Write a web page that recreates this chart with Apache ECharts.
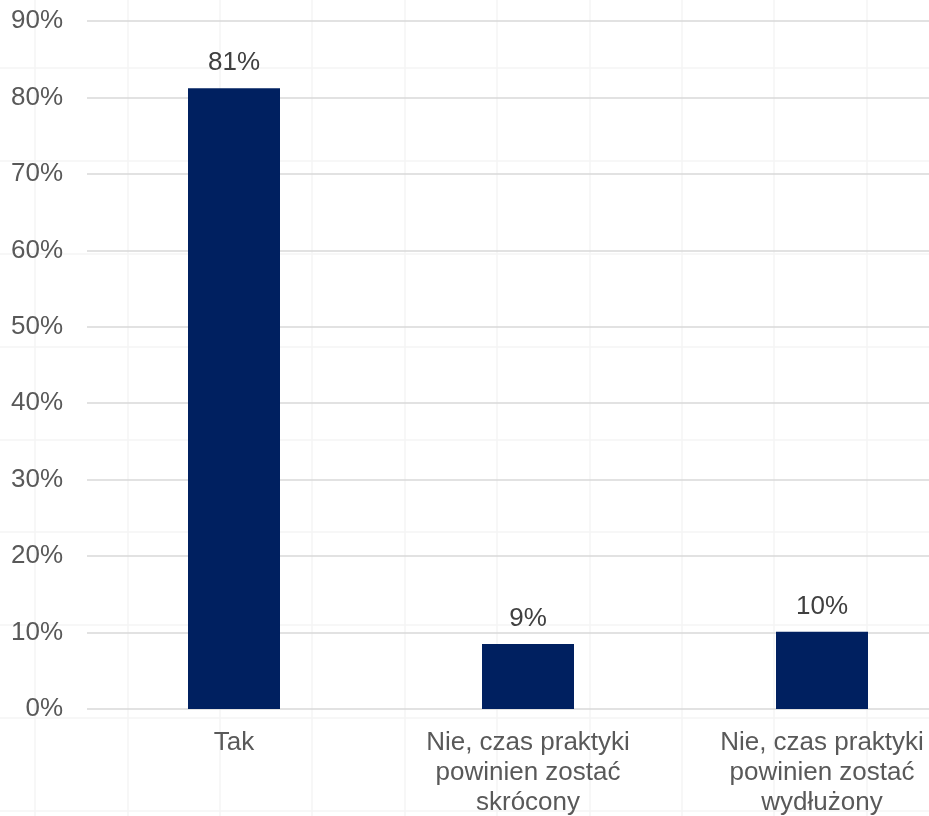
<!DOCTYPE html>
<html>
<head>
<meta charset="utf-8">
<script src="https://cdn.jsdelivr.net/npm/echarts@6/dist/echarts.min.js"></script>
<style>html,body{margin:0;padding:0;background:#fff}#c{width:929px;height:816px}</style>
</head>
<body>
<div id="c"></div>
<script>
const categories = ["Tak", "Nie, czas praktyki\npowinien zostać\nskrócony", "Nie, czas praktyki\npowinien zostać\nwydłużony"];
const values = [81.2, 8.5, 10.1];
const valueLabels = ["81%", "9%", "10%"];
const yTicks = [0, 10, 20, 30, 40, 50, 60, 70, 80, 90];

const chart = echarts.init(document.getElementById('c'), null, {renderer: 'canvas'});
const font = "'Liberation Sans', Arial, sans-serif";
chart.setOption({
  animation: false,
  backgroundColor: '#ffffff',
  grid: [
    {left: 87, top: 21, width: 882, height: 688, containLabel: false, outerBoundsMode: 'none'},
    {left: -57.4, top: -24.6, width: 1108.8, height: 928, containLabel: false, outerBoundsMode: 'none'}
  ],
  xAxis: [
    {
      type: 'category', gridIndex: 0, data: categories,
      axisLine: {show: false}, axisTick: {show: false},
      axisLabel: {color: '#595959', fontSize: 26, fontFamily: font, lineHeight: 30, margin: 19, interval: 0, hideOverlap: false}
    },
    {
      type: 'value', gridIndex: 1, min: 0, max: 12, interval: 1,
      axisLine: {show: false}, axisTick: {show: false}, axisLabel: {show: false},
      splitLine: {show: true, lineStyle: {color: '#f4f4f4', width: 1.5}}
    }
  ],
  yAxis: [
    {
      type: 'value', gridIndex: 0, min: yTicks[0], max: yTicks[yTicks.length - 1], interval: 10,
      axisLine: {show: false}, axisTick: {show: false},
      axisLabel: {color: '#595959', fontSize: 26, fontFamily: font, margin: 24, formatter: v => v + '%'},
      splitLine: {show: true, lineStyle: {color: '#d9d9d9', width: 1.5}},
      z: 3
    },
    {
      type: 'value', gridIndex: 1, min: 0, max: 10, interval: 1,
      axisLine: {show: false}, axisTick: {show: false}, axisLabel: {show: false},
      splitLine: {show: true, lineStyle: {color: '#f4f4f4', width: 1.5}}
    }
  ],
  series: [{
    type: 'bar', xAxisIndex: 0, yAxisIndex: 0,
    data: values,
    barWidth: 92,
    itemStyle: {color: '#002060'},
    label: {
      show: true, position: 'top', distance: 12,
      color: '#404040', fontSize: 26, fontFamily: font,
      formatter: p => valueLabels[p.dataIndex]
    },
    z: 5
  }]
});
</script>
</body>
</html>
